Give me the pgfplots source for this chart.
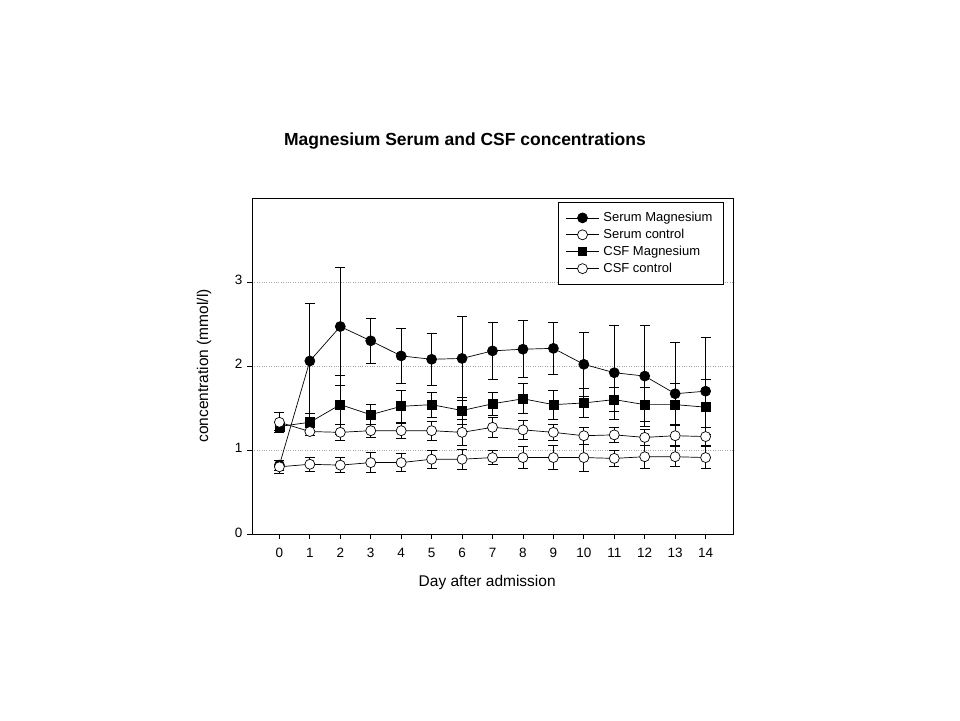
\documentclass[border=0pt]{standalone}
\usepackage{fontspec}
\setmainfont{Liberation Sans}
\usepackage{pgfplots}
\usepackage{pgfplotstable}
\pgfplotsset{compat=1.18}

\pgfplotstableread{
x y e
0 0.82 0.06
1 2.06 0.68
2 2.47 0.70
3 2.30 0.27
4 2.12 0.33
5 2.08 0.31
6 2.09 0.50
7 2.18 0.34
8 2.20 0.34
9 2.21 0.31
10 2.02 0.38
11 1.92 0.56
12 1.88 0.60
13 1.67 0.61
14 1.70 0.64
}\serummg

\pgfplotstableread{
x y e
0 1.28 0.05
1 1.33 0.10
2 1.54 0.35
3 1.42 0.12
4 1.52 0.19
5 1.54 0.15
6 1.47 0.16
7 1.55 0.14
8 1.61 0.18
9 1.54 0.17
10 1.56 0.17
11 1.60 0.14
12 1.54 0.20
13 1.54 0.25
14 1.51 0.33
}\csfmg

\pgfplotstableread{
x y e
0 1.33 0.12
1 1.22 0.05
2 1.21 0.09
3 1.23 0.08
4 1.23 0.09
5 1.23 0.11
6 1.21 0.16
7 1.27 0.12
8 1.24 0.11
9 1.21 0.09
10 1.17 0.10
11 1.18 0.09
12 1.15 0.10
13 1.17 0.13
14 1.16 0.11
}\serumctrl

\pgfplotstableread{
x y e
0 0.80 0.08
1 0.83 0.08
2 0.82 0.09
3 0.85 0.12
4 0.85 0.11
5 0.89 0.11
6 0.89 0.12
7 0.91 0.08
8 0.91 0.13
9 0.91 0.14
10 0.91 0.16
11 0.90 0.09
12 0.92 0.14
13 0.92 0.12
14 0.91 0.13
}\csfctrl

\begin{document}
\begin{tikzpicture}
\fill[white] (0pt,0pt) rectangle (960pt,720pt);
\path[use as bounding box] (0pt,0pt) rectangle (960pt,720pt);
\node[font=\bfseries\fontsize{17.5}{20}\selectfont] at (465pt,579pt) {Magnesium Serum and CSF concentrations};
\begin{axis}[
  at={(252pt,186pt)}, anchor=south west,
  scale only axis, width=481pt, height=336pt,
  xmin=-0.9, xmax=14.9, ymin=0, ymax=4,
  xtick={0,...,14}, ytick={0,1,2,3},
  tick align=outside, xtick pos=bottom, ytick pos=left,
  major tick length=5pt,
  axis line style={line width=0.9pt},
  tick style={black, line width=0.7pt},
  ymajorgrids, grid style={dotted, black!35, line width=0.8pt},
  /pgf/number format/assume math mode=true,
  typeset ticklabels with strut,
  tick label style={font=\fontsize{13.5}{15}\selectfont},
  xticklabel style={yshift=-4pt},
  yticklabel style={xshift=-1pt},
  xlabel={Day after admission}, ylabel={concentration (mmol/l)},
  every axis x label/.style={at={(axis description cs:0.489,-0.143)}, anchor=center, font=\fontsize{15.5}{17}\selectfont},
  every axis y label/.style={at={(axis description cs:-0.0998,0.5)}, anchor=center, rotate=90, font=\fontsize{15.5}{17}\selectfont},
  legend style={at={(0.981,0.988)}, anchor=north east, draw=black, line width=0.8pt,
    font=\fontsize{13}{15}\selectfont, row sep=2pt, inner xsep=7pt, inner ysep=8pt, fill=white,
    nodes={inner xsep=4pt}},
  legend cell align=left,
  legend image code/.code={\draw[mark repeat=2,mark phase=2] plot coordinates {(0pt,0pt) (16.5pt,0pt) (33pt,0pt)};},
  every axis plot/.append style={black, line width=0.7pt},
  error bars/error bar style={black, line width=0.8pt},
  error bars/error mark options={rotate=90, mark size=5pt, line width=0.8pt},
]
\addplot[mark=*, mark size=5pt, mark options={fill=black}, error bars/.cd, y dir=both, y explicit] table[x=x, y=y, y error=e] {\serummg};
\addplot[mark=square*, mark size=4.5pt, mark options={fill=black}, forget plot, error bars/.cd, y dir=both, y explicit] table[x=x, y=y, y error=e] {\csfmg};
\addplot[mark=*, mark size=5pt, mark options={fill=white}, error bars/.cd, y dir=both, y explicit] table[x=x, y=y, y error=e] {\serumctrl};
\addlegendimage{black, line width=0.7pt, mark=square*, mark size=4pt, mark options={fill=black}}
\addplot[mark=*, mark size=5pt, mark options={fill=white}, error bars/.cd, y dir=both, y explicit] table[x=x, y=y, y error=e] {\csfctrl};
\legend{Serum Magnesium, Serum control, CSF Magnesium, CSF control}
\end{axis}
\end{tikzpicture}
\end{document}
